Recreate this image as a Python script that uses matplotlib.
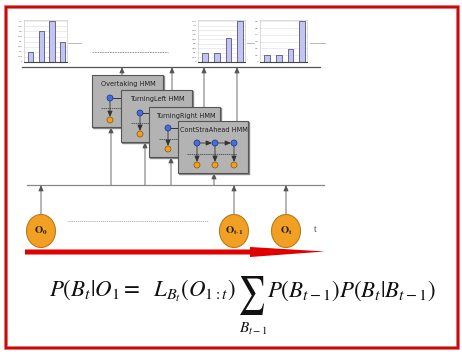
import matplotlib
matplotlib.use("Agg")
import matplotlib.pyplot as plt
from matplotlib.patches import Rectangle, Ellipse, Circle, Polygon, PathPatch
from matplotlib.textpath import TextPath
from matplotlib.font_manager import FontProperties
from matplotlib.transforms import Affine2D

plt.rcParams['mathtext.fontset'] = 'stix'

W, H = 462, 354

# bar heights of the three small histograms
hist_a = [0.10, 0.30, 0.40, 0.20]
hist_b = [0.10, 0.10, 0.27, 0.45]
hist_c = [0.10, 0.10, 0.19, 0.60]
hist_ticks = [[0, 0.05, 0.1, 0.15, 0.2, 0.25, 0.3, 0.35, 0.4],
              [0, 0.05, 0.1, 0.15, 0.2, 0.25, 0.3, 0.35, 0.4, 0.45],
              [0, 0.1, 0.2, 0.3, 0.4, 0.5, 0.6]]

hmm_names = ["Overtaking HMM", "TurningLeft HMM", "TurningRight HMM", "ContStraAhead HMM"]
obs_labels = [r"$\mathbf{O_0}$", r"$\mathbf{O_{t\text{-}1}}$", r"$\mathbf{O_t}$"]

fig = plt.figure(figsize=(W / 100, H / 100), dpi=100)
ax = fig.add_axes([0, 0, 1, 1])
ax.set_xlim(0, W)
ax.set_ylim(H, 0)
ax.axis("off")


def px_axes(x0, y0, x1, y1):
    return fig.add_axes([x0 / W, 1 - y1 / H, (x1 - x0) / W, (y1 - y0) / H])


# red frame
ax.add_patch(Rectangle((6, 7), 452, 341, fill=False, ec="#e05050", lw=2.6, zorder=1))
ax.add_patch(Rectangle((6, 7), 452, 341, fill=False, ec="#c00000", lw=1.2, zorder=1))

# small histograms
for (x0, x1), vals, ticks in zip([(24, 67), (198, 245), (260, 307)],
                                 [hist_a, hist_b, hist_c], hist_ticks):
    h = px_axes(x0, 20, x1, 62)
    h.bar(range(len(vals)), vals, width=0.5, color="#c4c4f4", ec="#555577", lw=0.6)
    h.set_ylim(0, max(vals) * 1.03)
    h.set_xlim(-0.6, 3.4)
    h.set_yticks(ticks)
    h.set_yticklabels([f"{t:g}" for t in ticks], fontsize=1.6, color="#444444")
    h.tick_params(axis="y", length=0, pad=1)
    h.set_xticks([])
    h.grid(axis="y", color="#dddddd", lw=0.4)
    h.set_axisbelow(True)
    for s in ["top", "right", "left"]:
        h.spines[s].set_color("#cccccc")
        h.spines[s].set_linewidth(0.5)
    h.spines["bottom"].set_color("#444444")
    h.spines["bottom"].set_linewidth(0.8)

# little dashes beside histograms and dashed gap
for x0, x1 in [(68, 81), (247, 254), (310, 325)]:
    ax.plot([x0, x1], [43, 43], color="#999999", lw=0.5)
ax.plot([92, 168], [52, 52], color="#888888", lw=0.6, ls=(0, (2, 1)))

# top and bottom bus lines
ax.plot([22, 320], [67, 67], color="#555555", lw=0.9)
ax.plot([27, 324], [185, 185], color="#888888", lw=0.9)

arrow_kw = dict(arrowstyle="-|>,head_length=0.35,head_width=0.15", color="#333333", lw=0.6)


def up_arrow(x, y_from, y_to, z=2, color="#888888"):
    kw = dict(arrow_kw)
    kw["color"] = color
    ax.annotate("", xy=(x, y_to), xytext=(x, y_from), arrowprops=dict(kw, shrinkA=0, shrinkB=0),
                zorder=z)


# HMM boxes
boxes = [(92, 75, 163, 127), (121, 90, 192, 142), (149, 107, 220, 157), (178, 121, 248, 173)]
top_x = [122, 172, 204, 237]
bot_x = [111, 145, 171, 214]
for i, (name, (x0, y0, x1, y1)) in enumerate(zip(hmm_names, boxes)):
    z = 3 + i * 2
    ax.add_patch(Rectangle((x0 + 0.8, y0 + 0.8), x1 - x0, y1 - y0, color="#8a8a8a", zorder=z))
    ax.add_patch(Rectangle((x0, y0), x1 - x0, y1 - y0, fc="#b3b3b3", ec="#555555", lw=0.8, zorder=z))
    ax.text(x0 + 1 + (x1 - x0) / 2, y0 + 9, name, fontsize=4.7,
            ha="center", va="center", color="#222222", zorder=z + 1)
    up_arrow(top_x[i], y0, 67, z=2, color="#555555")
    up_arrow(bot_x[i], 185, y1, z=2, color="#555555")

# inner nodes of the boxes
inner = [(110, 98, 108, 120), (140, 113, 123, 134), (168, 128, 139, 149)]
for i, (bx, by, dy, oy) in enumerate(inner):
    z = 3 + i * 2 + 1
    ax.plot([bx, bx + 16], [by, by], color="#222222", lw=0.6, zorder=z)
    ax.plot([bx - 9, bx + 12], [dy, dy], color="#333333", lw=0.5, ls=(0, (2, 1)), zorder=z)
    ax.annotate("", xy=(bx, oy - 3), xytext=(bx, by + 3),
                arrowprops=dict(arrow_kw, shrinkA=0, shrinkB=0), zorder=z)
    ax.add_patch(Circle((bx, by), 3.0, fc="#3f6fe0", ec="#203080", lw=0.5, zorder=z + 0.2))
    ax.add_patch(Circle((bx, oy), 3.0, fc="#f0a020", ec="#905000", lw=0.5, zorder=z + 0.2))

z = 10
cx = [197, 215, 234]
ax.plot([187, 237], [154, 154], color="#333333", lw=0.5, ls=(0, (2, 1)), zorder=z)
for j, x in enumerate(cx):
    if j < 2:
        ax.annotate("", xy=(cx[j + 1] - 3, 143), xytext=(x + 3, 143),
                    arrowprops=dict(arrow_kw, shrinkA=0, shrinkB=0), zorder=z)
    ax.annotate("", xy=(x, 162), xytext=(x, 146),
                arrowprops=dict(arrow_kw, shrinkA=0, shrinkB=0), zorder=z)
    ax.add_patch(Circle((x, 143), 3.0, fc="#3f6fe0", ec="#203080", lw=0.5, zorder=z + 0.2))
    ax.add_patch(Circle((x, 165), 3.0, fc="#f0a020", ec="#905000", lw=0.5, zorder=z + 0.2))

# observation nodes
obs_x = [41, 234, 286]
for x, lab in zip(obs_x, obs_labels):
    up_arrow(x, 214, 185, color="#555555")
    ax.add_patch(Ellipse((x, 231), 29, 33, fc="#f2a024", ec="#b97a1a", lw=0.8, zorder=3))
    ax.text(x, 231, lab, fontsize=7.5, ha="center", va="center", color="#222222", zorder=4)
ax.plot([67, 208], [221, 221], color="#aaaaaa", lw=0.6, ls=(0, (1.5, 1)))
ax.text(315, 229, "t", fontsize=7, family="Liberation Serif", color="#555555",
        ha="center", va="center")

# red time arrow
ax.add_patch(Polygon([(25, 249.5), (250, 249.5), (250, 247), (325, 251.5),
                      (250, 257), (250, 254.5), (25, 254.5)],
                     closed=True, fc="#e00000", ec="none", zorder=3))

# formula, with a display-size summation sign
ink = "#111111"
ax.text(236, 297, r"$P(B_t|O_1 =\ \ L_{B_t}(O_{1:t})$", fontsize=16.5,
        ha="right", va="baseline", color=ink)
ax.text(267, 297, r"$P(B_{t-1})P(B_t|B_{t-1})$", fontsize=16.5,
        ha="left", va="baseline", color=ink)
sig = TextPath((0, 0), r"$\sum$", size=1, prop=FontProperties(family="STIXGeneral"))
bb = sig.get_extents()
sx, sy = 24 / bb.width, 39 / bb.height
tr = Affine2D().translate(-bb.x0, -bb.y0).scale(sx, -sy).translate(240, 315) + ax.transData
ax.add_patch(PathPatch(sig, fc=ink, ec="none", transform=tr))
ax.text(254, 329, r"$B_{t-1}$", fontsize=11, ha="center", va="center", color=ink)

fig.savefig("out.png", dpi=100)
